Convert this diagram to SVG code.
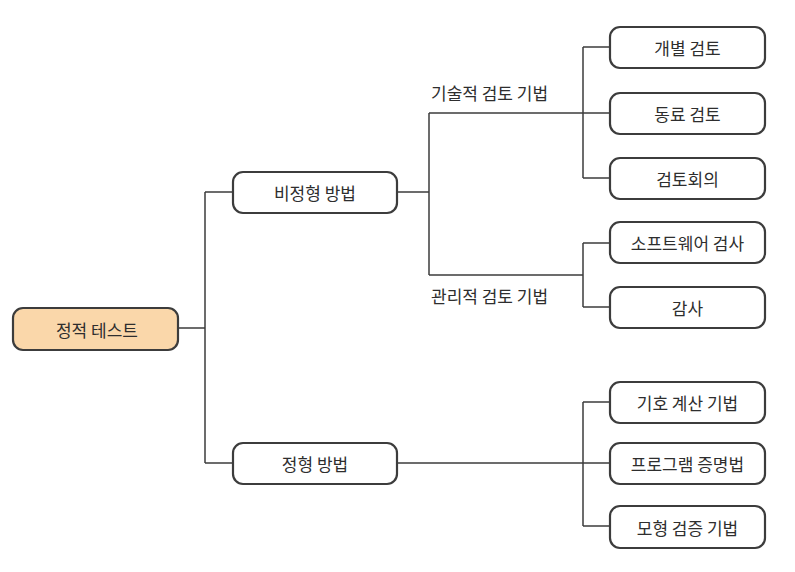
<svg xmlns="http://www.w3.org/2000/svg" width="795" height="572" viewBox="0 0 795 572">
<style>
.box{fill:#ffffff;stroke:#3c3c3c;stroke-width:2.2}
.root{fill:#fad7aa;stroke:#3c3c3c;stroke-width:2.2}
.t{font-family:"Noto Sans CJK KR","Noto Sans",sans-serif;font-size:17px;fill:#2e2e2e;text-anchor:middle;dominant-baseline:central}
.lb{font-family:"Noto Sans CJK KR","Noto Sans",sans-serif;font-size:17px;fill:#2e2e2e}
.c{fill:none;stroke:#3c3c3c;stroke-width:1.5}
</style>
<rect width="795" height="572" fill="#ffffff"/>
<g id="connectors">
<path class="c" d="M178 328 H205 M205 192 V463 M205 192 H233 M205 463 H233"/>
<path class="c" d="M397 192 H429 M429 113 V275 M429 113 H610 M429 275 H583"/>
<path class="c" d="M583 47 V178 M583 47 H610 M583 178 H610"/>
<path class="c" d="M583 243 V307 M583 243 H610 M583 307 H610"/>
<path class="c" d="M397 463 H610 M583 402 V526 M583 402 H610 M583 526 H610"/>
</g>
<g id="n-root"><rect class="root" x="13" y="308" width="165" height="42" rx="10"/><text class="t" x="97" y="329">정적 테스트</text></g>
<g id="n-informal"><rect class="box" x="233" y="172" width="164" height="41" rx="10"/><text class="t" x="315" y="192.5">비정형 방법</text></g>
<g id="n-formal"><rect class="box" x="233" y="443" width="164" height="41" rx="10"/><text class="t" x="315" y="463.5">정형 방법</text></g>
<g id="lbl-tech"><text class="lb" x="431" y="100">기술적 검토 기법</text></g>
<g id="lbl-mgmt"><text class="lb" x="431" y="303">관리적 검토 기법</text></g>
<g id="n-1"><rect class="box" x="610" y="27" width="155" height="41" rx="10"/><text class="t" x="687.5" y="47.5">개별 검토</text></g>
<g id="n-2"><rect class="box" x="610" y="93" width="155" height="41" rx="10"/><text class="t" x="687.5" y="113.5">동료 검토</text></g>
<g id="n-3"><rect class="box" x="610" y="158" width="155" height="41" rx="10"/><text class="t" x="687.5" y="178.5">검토회의</text></g>
<g id="n-4"><rect class="box" x="610" y="222" width="155" height="41" rx="10"/><text class="t" x="687.5" y="242.5">소프트웨어 검사</text></g>
<g id="n-5"><rect class="box" x="610" y="287" width="155" height="41" rx="10"/><text class="t" x="687.5" y="307.5">감사</text></g>
<g id="n-6"><rect class="box" x="610" y="382" width="155" height="41" rx="10"/><text class="t" x="687.5" y="402.5">기호 계산 기법</text></g>
<g id="n-7"><rect class="box" x="610" y="443" width="155" height="41" rx="10"/><text class="t" x="687.5" y="463.5">프로그램 증명법</text></g>
<g id="n-8"><rect class="box" x="610" y="506" width="155" height="42" rx="10"/><text class="t" x="687.5" y="527">모형 검증 기법</text></g>
</svg>
